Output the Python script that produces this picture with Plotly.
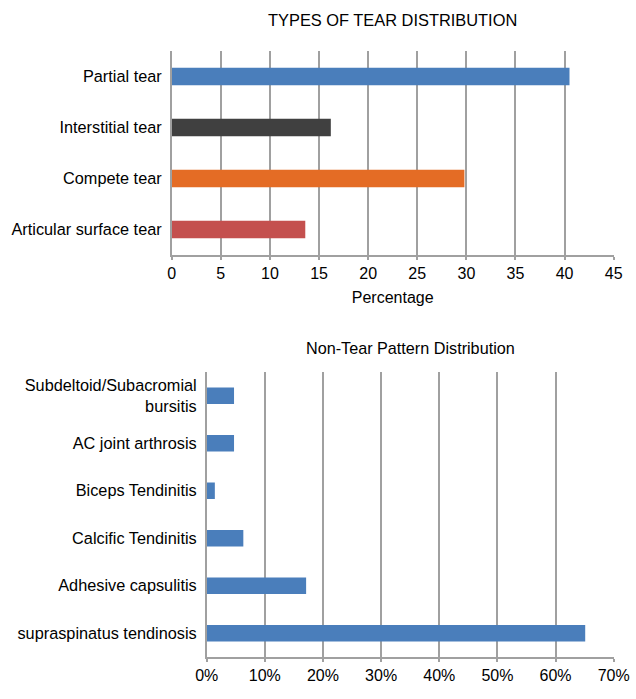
import plotly.graph_objects as go

# Types of tear (percentage)
tear_types = ["Partial tear", "Interstitial tear", "Compete tear", "Articular surface tear"]
tear_values = [40.5, 16.2, 29.8, 13.6]
tear_colors = ["#4A7EBB", "#404040", "#E46C25", "#C4504E"]

# Non-tear patterns (fraction)
nontear_types = ["Subdeltoid/Subacromial<br>bursitis", "AC joint arthrosis", "Biceps Tendinitis",
                 "Calcific Tendinitis", "Adhesive capsulitis", "supraspinatus tendinosis"]
nontear_values = [0.047, 0.047, 0.014, 0.063, 0.171, 0.651]
nontear_color = "#4A7EBB"

top_ticks = [0, 5, 10, 15, 20, 25, 30, 35, 40, 45]
bottom_ticks = [0, 0.1, 0.2, 0.3, 0.4, 0.5, 0.6, 0.7]
bottom_ticktext = ["0%", "10%", "20%", "30%", "40%", "50%", "60%", "70%"]

W, H = 636, 699
FONT = "Arial, Liberation Sans, sans-serif"
GRID = "#A0A0A0"

fig = go.Figure()

fig.add_trace(go.Bar(
    x=tear_values, y=tear_types, orientation="h",
    marker=dict(color=tear_colors, line=dict(width=0)),
    width=0.345, xaxis="x", yaxis="y", showlegend=False,
))
fig.add_trace(go.Bar(
    x=nontear_values, y=nontear_types, orientation="h",
    marker=dict(color=nontear_color, line=dict(width=0)),
    width=0.345, xaxis="x2", yaxis="y2", showlegend=False,
))

common_x = dict(showgrid=True, gridcolor=GRID, gridwidth=1.5, zeroline=False,
                showline=True, linecolor=GRID, linewidth=1.5,
                ticks="outside", ticklen=3, tickcolor=GRID, tickwidth=1.5,
                tickfont=dict(size=16, color="#000"), fixedrange=True, automargin=False)
common_y = dict(showgrid=False, zeroline=False, showline=True, linecolor=GRID, linewidth=1.5,
                ticks="", tickfont=dict(size=16.3, color="#000"), autorange="reversed",
                ticklabelstandoff=5, automargin=False)

fig.update_layout(
    width=W, height=H,
    margin=dict(l=0, r=0, t=0, b=0),
    paper_bgcolor="white", plot_bgcolor="white",
    font=dict(family=FONT, color="#000"),
    xaxis=dict(domain=[171.7 / W, 613.7 / W], range=[0, 45], tickvals=top_ticks,
               anchor="y", title=dict(text="Percentage", font=dict(size=16), standoff=11),
               **common_x),
    yaxis=dict(domain=[1 - 255 / H, 1 - 51 / H], anchor="x", **common_y),
    xaxis2=dict(domain=[206.7 / W, 613.7 / W], range=[0, 0.7], tickvals=bottom_ticks,
                ticktext=bottom_ticktext, anchor="y2", **common_x),
    yaxis2=dict(domain=[1 - 657 / H, 1 - 372 / H], anchor="x2", **common_y),
    annotations=[
        dict(text="TYPES OF TEAR DISTRIBUTION", x=(171.7 + 613.7) / 2 / W, y=1 - 20 / H,
             xref="paper", yref="paper", showarrow=False, font=dict(size=16.4),
             xanchor="center", yanchor="middle"),
        dict(text="Non-Tear Pattern Distribution", x=(206.7 + 613.7) / 2 / W, y=1 - 348 / H,
             xref="paper", yref="paper", showarrow=False, font=dict(size=16.2),
             xanchor="center", yanchor="middle"),
    ],
)

fig.write_html("out.html")
